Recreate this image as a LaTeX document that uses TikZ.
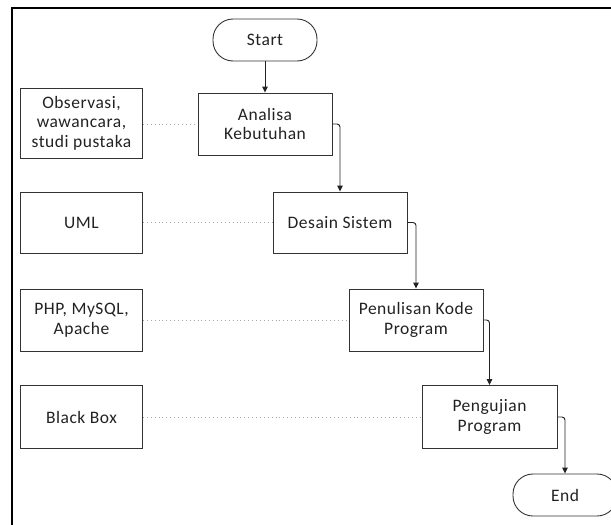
\documentclass[tikz,border=0pt]{standalone}
\usepackage{fontspec}
\setmainfont{Carlito}[LetterSpace=3]
\usetikzlibrary{arrows.meta}
\definecolor{ink}{HTML}{222222}
\definecolor{edge}{HTML}{333333}
\tikzset{
  box/.style={draw=edge, line width=0.9pt, align=center, inner sep=0pt, text=ink,
    font=\fontsize{17.5}{19.5}\selectfont},
  term/.style={box, rounded corners=20pt, minimum width=104pt, minimum height=42pt},
  flow/.style={draw=ink, line width=0.9pt, rounded corners=3pt, -{Triangle[length=6pt,width=5.5pt]}},
  dots/.style={draw=gray!70, line width=0.9pt, dash pattern=on 0.9pt off 3pt},
  frame/.style={draw=black, line width=1.8pt}
}
\begin{document}
\begin{tikzpicture}[x=1pt,y=-1pt]
\useasboundingbox (0,0) rectangle (611,525);
\coordinate (fa) at (12,525);
\coordinate (fb) at (12,8);
\coordinate (fc) at (615,8);
\draw[frame] (fa) -- (fb) -- (fc);

\node[term] (start) at (265,40) {Start};
\node[box, minimum width=134pt, minimum height=62pt] (ana) at (265,124) {Analisa\\Kebutuhan};
\node[box, minimum width=134pt, minimum height=61pt] (des) at (340,222.5) {Desain Sistem};
\node[box, minimum width=134pt, minimum height=62pt] (pen) at (416,320) {Penulisan Kode\\Program};
\node[box, minimum width=135pt, minimum height=63pt] (uji) at (489.5,417) {Pengujian\\Program};
\node[term] (end) at (565,495) {End};

\node[box, minimum width=122pt, minimum height=70pt] (obs) at (81.5,123) {Observasi,\\wawancara,\\studi pustaka};
\node[box, minimum width=122pt, minimum height=61pt] (uml) at (81.5,222.5) {UML};
\node[box, minimum width=122pt, minimum height=62pt] (php) at (81.5,320) {PHP, MySQL,\\Apache};
\node[box, minimum width=122pt, minimum height=63pt] (bb) at (81.5,417) {Black Box};

\draw[flow] (start.south) -- (ana.north);
\draw[flow] (ana.east) -| (des.north);
\draw[flow] (des.east) -| (pen.north);
\draw[flow] (pen.east) -| (uji.north);
\draw[flow] (uji.east) -| (end.north);

\draw[dots] (obs.east |- ana.west) -- (ana.west);
\draw[dots] (uml.east) -- (des.west);
\draw[dots] (php.east) -- (pen.west);
\draw[dots] (bb.east) -- (uji.west);
\end{tikzpicture}
\end{document}
